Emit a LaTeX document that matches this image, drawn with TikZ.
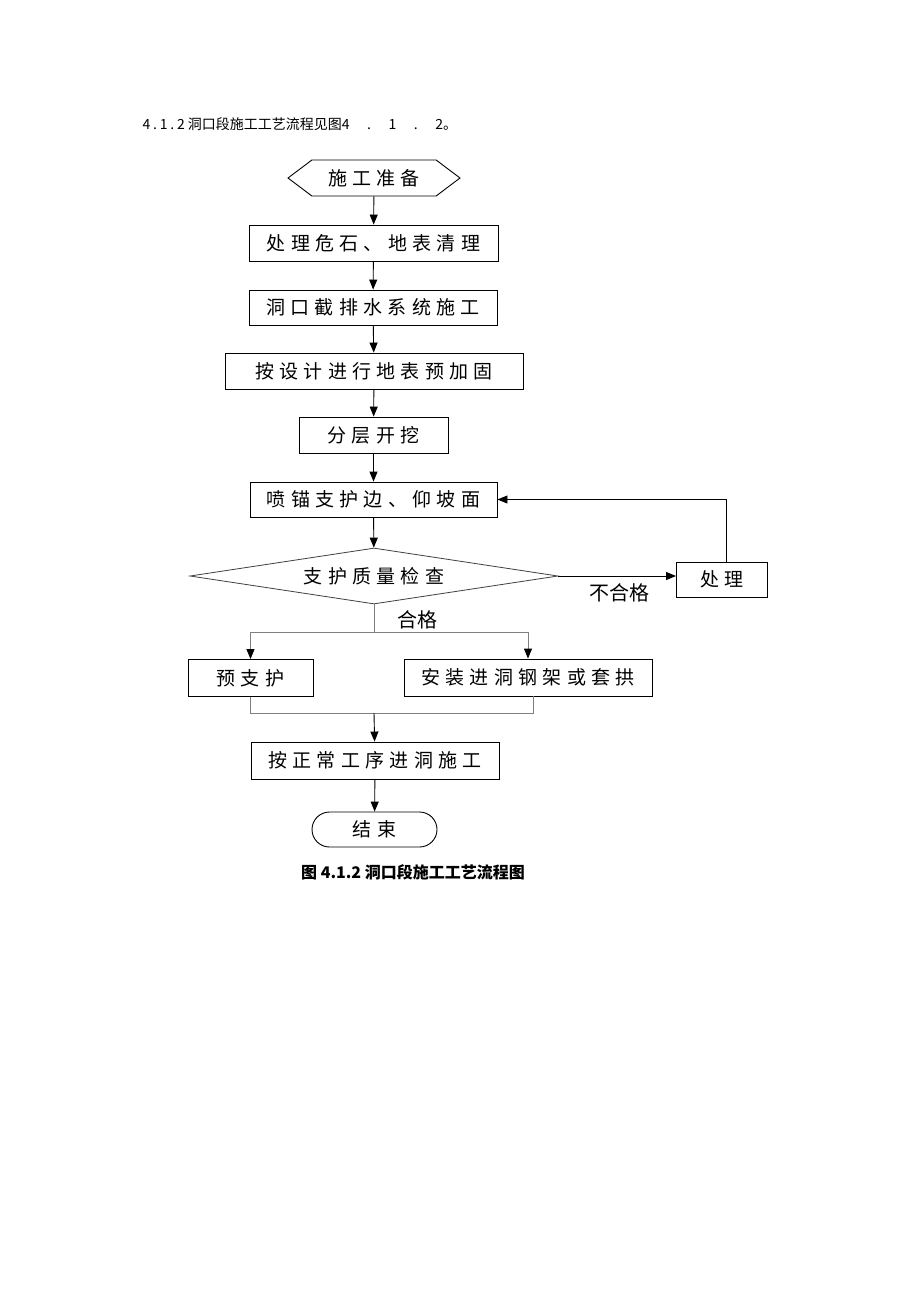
\documentclass[tikz,border=0pt]{standalone}
\usepackage{fontspec}
\setmainfont{Noto Sans CJK SC}
\newfontfamily\boxfont[LetterSpace=28]{Noto Sans CJK SC}
\usetikzlibrary{arrows.meta}
\usetikzlibrary{shapes.geometric, shapes.symbols, shapes.misc}
\begin{document}
\begin{tikzpicture}[x=1pt, y=-1pt, proc/.style={rectangle, draw=black, line width=0.9pt, minimum height=36pt, inner sep=0pt, font={\boxfont\fontsize{19pt}{19pt}\selectfont}}]
    \tikzset{flow/.style={>={Triangle[length=10pt, width=8pt, color=black, fill=black]}, line width=0.9pt, ->}}
    \tikzset{branch/.style={draw=black!50, line width=0.9pt}}
    \useasboundingbox[fill=white] (0,0) rectangle (920,1302);

    \node[anchor=west, font=\fontsize{14pt}{14pt}\selectfont] (title) at (139,124) {{\addfontfeature{LetterSpace=20}4.1.2} 洞口段施工工艺流程见图{\addfontfeature{LetterSpace=125}4.1.2}。};

    \node[proc, signal, signal to=west and east, signal pointer angle=74, minimum width=172pt] (prep) at (374,178) {施工准备};
    \node[proc, minimum width=249pt] (clear) at (373.5,243) {处理危石、地表清理};
    \node[proc, minimum width=248pt, minimum height=35pt] (drain) at (373,307.5) {洞口截排水系统施工};
    \node[proc, minimum width=298pt] (reinf) at (374,371) {按设计进行地表预加固};
    \node[proc, minimum width=149pt] (dig) at (373.5,435) {分层开挖};
    \node[proc, minimum width=247pt, minimum height=35pt] (spray) at (373.5,499.5) {喷锚支护边、仰坡面};
    \node[proc, diamond, draw=black!75, line width=0.8pt, shape aspect=6.57, minimum width=368pt, minimum height=56pt] (check) at (374,576) {支护质量检查};
    \node[proc, minimum width=91pt, minimum height=35pt] (fix) at (722,579.5) {处理};
    \node[proc, minimum width=125pt, minimum height=37pt] (pre) at (250.5,678) {预支护};
    \node[proc, minimum width=248pt, minimum height=37pt] (arch) at (528,677.5) {安装进洞钢架或套拱};
    \node[proc, minimum width=248pt, minimum height=37pt] (normal) at (375,760.5) {按正常工序进洞施工};
    \node[proc, rounded rectangle, minimum width=125pt, minimum height=35pt] (finish) at (374.5,829.5) {结束};

    \node[font=\fontsize{20pt}{20pt}\selectfont] (fail) at (619,593) {不合格};
    \node[font=\fontsize{20pt}{20pt}\selectfont] (pass) at (417,620) {合格};

    \node[font=\bfseries\fontsize{16pt}{16pt}\selectfont] (caption) at (413,872) {图 4.1.2 洞口段施工工艺流程图};

    \coordinate (fork) at (374,632);
    \coordinate (join) at (374,713);

    \foreach \a/\b in {prep/clear, clear/drain, drain/reinf, reinf/dig, dig/spray, spray/check, normal/finish} {
    \draw[flow] (\a) -- (\b);
    }

    \draw[flow] (check.east) -- (check.east -| fix.west);
    \draw[flow] ([xshift=4pt]fix.north) |- (spray.east);

    \draw[branch] (check.south) -- (fork);
    \draw[branch, flow] (fork) -| (pre.north);
    \draw[branch, flow] (fork) -| (arch.north);
    \draw[branch] (pre.south) |- (join);
    \draw[branch] ([xshift=5pt]arch.south) |- (join);
    \draw[flow] (join) -- (normal);
\end{tikzpicture}
\end{document}
